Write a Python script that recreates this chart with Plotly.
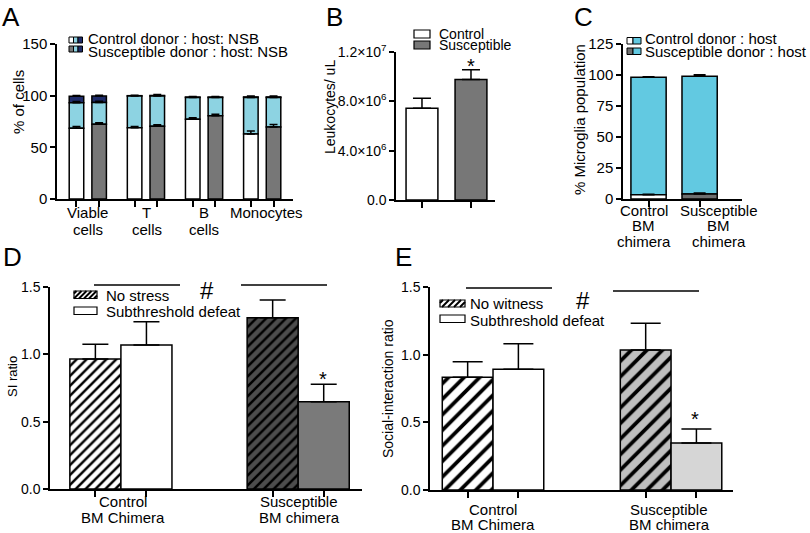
import plotly.graph_objects as go

W, H = 810, 533
FONT = "Liberation Sans, Arial, Helvetica, sans-serif"

# ---------------- data ----------------
# Panel A
a_categories = ["Viable<br>cells", "T<br>cells", "B<br>cells", "Monocytes"]
a_ctrl_donor = [68.4, 69.0, 77.1, 62.9]
a_ctrl_host = [24.8, 30.6, 21.2, 35.4]
a_ctrl_nsb = [6.3, 0.4, 0.4, 0.5]
a_susc_donor = [72.3, 70.3, 80.6, 69.7]
a_susc_host = [21.0, 29.3, 17.6, 28.5]
a_susc_nsb = [6.3, 0.6, 0.5, 0.6]
a_ctrl_donor_err = [1.8, 1.2, 1.6, 2.8]
a_ctrl_host_err = [1.2, 0.0, 0.0, 0.0]
a_ctrl_nsb_err = [0.6, 0.5, 0.6, 0.8]
a_susc_donor_err = [1.4, 1.6, 1.4, 2.4]
a_susc_host_err = [1.2, 0.0, 0.0, 0.0]
a_susc_nsb_err = [0.7, 0.9, 0.6, 0.8]
a_yticks = [0, 50, 100, 150]

# Panel B
b_groups = ["Control", "Susceptible"]
b_values = [7.43e6, 9.78e6]
b_err = [0.81e6, 0.78e6]
b_yticks = [0, 4e6, 8e6, 1.2e7]
b_yticklabels = ["0.0", "4.0×10<sup>6</sup>", "8.0×10<sup>6</sup>", "1.2×10<sup>7</sup>"]

# Panel C
c_categories = ["Control<br>BM<br>chimera", "Susceptible<br>BM<br>chimera"]
c_donor = [3.5, 4.0]
c_host = [94.6, 94.9]
c_donor_err = [0.4, 0.8]
c_host_err = [0.4, 1.3]
c_yticks = [0, 25, 50, 75, 100, 125]

# Panel D
d_groups = ["Control<br>BM Chimera", "Susceptible<br>BM chimera"]
d_nostress = [0.965, 1.272]
d_nostress_err = [0.109, 0.131]
d_defeat = [1.069, 0.648]
d_defeat_err = [0.173, 0.129]

# Panel E
e_groups = ["Control<br>BM Chimera", "Susceptible<br>BM chimera"]
e_nowitness = [0.833, 1.035]
e_nowitness_err = [0.115, 0.197]
e_defeat = [0.892, 0.347]
e_defeat_err = [0.189, 0.104]

ratio_ticks = [0, 0.5, 1.0, 1.5]
ratio_ticklabels = ["0.0", "0.5", "1.0", "1.5"]

# ---------------- helpers ----------------
def px(x):
    return x / W

def py(y):
    return 1 - y / H

def bar(x, y, xa, ya, color, offset, width, base=None, err=None, errw=4, pattern=None):
    t = dict(
        x=x, y=y, xaxis=xa, yaxis=ya, offset=offset, width=width,
        marker=dict(color=color, line=dict(color="black", width=1.5)),
        showlegend=False, hoverinfo="skip",
    )
    if base is not None:
        t["base"] = base
    if pattern is not None:
        t["marker"]["pattern"] = pattern
    if err is not None:
        t["error_y"] = dict(type="data", symmetric=False, array=err,
                            arrayminus=[0] * len(err), color="black",
                            thickness=1.5, width=errw)
    return go.Bar(**t)

fig = go.Figure()

# ---------------- Panel A ----------------
ax = list(range(len(a_categories)))
CYAN_A = "#8dd3e2"
NAVY = "#1f2c6a"
GRAY = "#777777"
ctrl_base2 = [d + h for d, h in zip(a_ctrl_donor, a_ctrl_host)]
susc_base2 = [d + h for d, h in zip(a_susc_donor, a_susc_host)]
for off, donor, host, nsb, base2, dcol, errs in [
    (-0.32, a_ctrl_donor, a_ctrl_host, a_ctrl_nsb, ctrl_base2, "white",
     (a_ctrl_donor_err, a_ctrl_host_err, a_ctrl_nsb_err)),
    (0.07, a_susc_donor, a_susc_host, a_susc_nsb, susc_base2, GRAY,
     (a_susc_donor_err, a_susc_host_err, a_susc_nsb_err)),
]:
    fig.add_trace(bar(ax, nsb, "x", "y", NAVY, off, 0.25, base=base2, err=errs[2], errw=4))
    fig.add_trace(bar(ax, host, "x", "y", CYAN_A, off, 0.25, base=donor, err=errs[1], errw=4))
    fig.add_trace(bar(ax, donor, "x", "y", dcol, off, 0.25, base=[0] * len(ax), err=errs[0], errw=4))

# ---------------- Panel B ----------------
bx = list(range(len(b_groups)))
fig.add_trace(go.Bar(
    x=bx, y=b_values, xaxis="x2", yaxis="y2", width=0.65,
    marker=dict(color=["white", GRAY], line=dict(color="black", width=1.5)),
    error_y=dict(type="data", symmetric=False, array=b_err, arrayminus=[0, 0],
                 color="black", thickness=1.5, width=9),
    showlegend=False, hoverinfo="skip"))

# ---------------- Panel C ----------------
cx = list(range(len(c_categories)))
CYAN_C = "#62c9e1"
fig.add_trace(bar(cx, c_host, "x3", "y3", CYAN_C, -0.345, 0.69, base=c_donor, err=c_host_err, errw=6))
fig.add_trace(go.Bar(
    x=cx, y=c_donor, xaxis="x3", yaxis="y3", width=0.69, offset=-0.345,
    marker=dict(color=["white", "#6e6e6e"], line=dict(color="black", width=1.5)),
    error_y=dict(type="data", symmetric=False, array=c_donor_err, arrayminus=[0, 0],
                 color="black", thickness=1.5, width=6),
    showlegend=False, hoverinfo="skip"))

# ---------------- Panel D ----------------
dx = list(range(len(d_groups)))
BW_D = 0.288
for i, bg in enumerate(["white", "#4d4d4d"]):
    fig.add_trace(bar([dx[i]], [d_nostress[i]], "x4", "y4", bg, -BW_D, BW_D,
                      err=[d_nostress_err[i]], errw=13,
                      pattern=dict(shape="/", fgcolor="#000000", bgcolor=bg, fgopacity=1,
                                   size=7, solidity=0.36, fillmode="replace")))
fig.add_trace(bar(dx, d_defeat, "x4", "y4", ["white", "#7a7a7a"], 0, BW_D,
                  err=d_defeat_err, errw=13))

# ---------------- Panel E ----------------
ex = list(range(len(e_groups)))
BW_E = 0.285
for i, bg in enumerate(["white", "#bfbfbf"]):
    fig.add_trace(bar([ex[i]], [e_nowitness[i]], "x5", "y5", bg, -BW_E, BW_E,
                      err=[e_nowitness_err[i]], errw=15,
                      pattern=dict(shape="/", fgcolor="#000000", bgcolor=bg, fgopacity=1,
                                   size=11, solidity=0.34, fillmode="replace")))
fig.add_trace(bar(ex, e_defeat, "x5", "y5", ["white", "#d6d6d6"], 0, BW_E,
                  err=e_defeat_err, errw=15))

# ---------------- axes ----------------
def xaxis(domain, rng, yref, tickvals):
    return dict(domain=domain, range=rng, anchor=yref, showline=True, linecolor="black",
                linewidth=1.5, showgrid=False, zeroline=False, ticks="outside",
                tickcolor="black", ticklen=6, tickwidth=1.5, tickmode="array",
                tickvals=tickvals, showticklabels=False, fixedrange=True,
                automargin=False)

def yaxis(domain, rng, xref, tickvals, ticktext=None, fs=15):
    d = dict(domain=domain, range=rng, anchor=xref, showline=True, linecolor="black",
             linewidth=1.5, showgrid=False, zeroline=False, ticks="outside",
             tickcolor="black", ticklen=5, tickwidth=1.5, tickmode="array",
             tickvals=tickvals, fixedrange=True, automargin=False,
             tickfont=dict(family=FONT, size=fs, color="black"))
    if ticktext is not None:
        d["ticktext"] = ticktext
    return d

a_ticks = [i + o for i in ax for o in (-0.195, 0.195)]
d_ticks = [i + o for i in dx for o in (-BW_D / 2, BW_D / 2)]
e_ticks = [i + o for i in ex for o in (-BW_E / 2, BW_E / 2)]

fig.update_layout(
    xaxis=xaxis([px(57), px(293)], [-0.53, 3.53], "y", a_ticks),
    yaxis=yaxis([py(199), py(44)], [0, 150], "x", a_yticks),
    xaxis2=xaxis([px(396), px(495)], [-0.53, 1.49], "y2", bx),
    yaxis2=yaxis([py(200), py(52)], [0, 1.2e7], "x2", b_yticks, b_yticklabels, fs=14),
    xaxis3=xaxis([px(623), px(742)], [-0.5, 1.83], "y3", cx),
    yaxis3=yaxis([py(199), py(44)], [0, 125], "x3", c_yticks),
    xaxis4=xaxis([px(50), px(362)], [-0.40, 1.36], "y4", d_ticks),
    yaxis4=yaxis([py(489), py(287)], [0, 1.5], "x4", ratio_ticks, ratio_ticklabels, fs=14),
    xaxis5=xaxis([px(430), px(733)], [-0.354, 1.348], "y5", e_ticks),
    yaxis5=yaxis([py(490), py(287)], [0, 1.5], "x5", ratio_ticks, ratio_ticklabels, fs=14),
)

# ---------------- annotations / shapes ----------------
ann = []
shapes = []

def text(x, y, s, size=15, angle=0, xanchor="center", yanchor="middle"):
    ann.append(dict(x=px(x), y=py(y), xref="paper", yref="paper", text=s,
                    showarrow=False, textangle=angle, xanchor=xanchor, yanchor=yanchor,
                    font=dict(family=FONT, size=size, color="black")))

def cat_labels(xref, xs, labels, y_first, spacing, shifts, size=15):
    # category labels, one annotation per text line, anchored on the axis' data x
    for xv, lab, sh in zip(xs, labels, shifts):
        for k, ln in enumerate(lab.split("<br>")):
            ann.append(dict(x=xv, xref=xref, y=py(y_first + k * spacing), yref="paper",
                            text=ln, showarrow=False, xanchor="center", yanchor="middle",
                            xshift=sh, font=dict(family=FONT, size=size, color="black")))

def rect(x0, y0, x1, y1, color, lw=1.2):
    shapes.append(dict(type="rect", xref="paper", yref="paper",
                       x0=px(x0), x1=px(x1), y0=py(y1), y1=py(y0),
                       fillcolor=color, line=dict(color="black", width=lw)))

def line(x0, y0, x1, y1, lw=1.5):
    shapes.append(dict(type="line", xref="paper", yref="paper",
                       x0=px(x0), x1=px(x1), y0=py(y0), y1=py(y1),
                       line=dict(color="black", width=lw)))

def hatch_swatch(x0, y0, x1, y1, bg, step):
    rect(x0, y0, x1, y1, bg)
    h = y1 - y0
    s = x0 - h + step / 2
    while s < x1:
        a0, b0 = s, y1
        a1, b1 = s + h, y0
        if a0 < x0:
            b0 = y1 - (x0 - a0)
            a0 = x0
        if a1 > x1:
            b1 = y0 + (a1 - x1)
            a1 = x1
        if a1 > a0:
            line(a0, b0, a1, b1, lw=2)
        s += step

# category labels
cat_labels("x", ax, a_categories, 212, 18, [0, 1, 0, 4])
cat_labels("x3", cx, c_categories, 210, 16, [-5, 19])
cat_labels("x4", dx, d_groups, 501, 16, [2, 1])
cat_labels("x5", ex, e_groups, 509, 15, [0, -2])

# panel letters
for lx, ly, L in [(11, 17, "A"), (334, 17, "B"), (583, 17, "C"), (12, 257, "D"), (403, 257, "E")]:
    text(lx, ly, L, size=26)

# y titles
text(18, 102, "% of cells", size=15, angle=-90)
text(330, 107, "Leukocytes/ uL", size=14, angle=-90)
text(579, 120, "% Microglia population", size=15, angle=-90)
text(12, 377, "SI ratio", size=13, angle=-90)
text(388, 389, "Social-interaction ratio", size=14, angle=-90)

# legend A
for yy, first in [(37, "white"), (46, GRAY)]:
    rect(69, yy, 73.5, yy + 6, first, lw=1)
    rect(73.5, yy, 78, yy + 6, CYAN_A, lw=1)
    rect(78, yy, 82.5, yy + 6, NAVY, lw=1)
text(86, 39, "Control donor : host: NSB", size=15, xanchor="left")
text(86, 51, "Susceptible donor : host: NSB", size=15, xanchor="left")

# legend B
rect(414, 30, 430, 38, "white")
rect(414, 41, 430, 49, GRAY)
text(437, 34, "Control", size=14, xanchor="left")
text(437, 45, "Susceptible", size=14, xanchor="left")
text(471, 66, "*", size=20)

# legend C
rect(627, 37.5, 633, 44, "white", lw=1)
rect(633, 37.5, 641, 44, CYAN_C, lw=1)
rect(627, 48, 633, 54.5, "#6e6e6e", lw=1)
rect(633, 48, 641, 54.5, CYAN_C, lw=1)
text(643, 39, "Control donor : host", size=15, xanchor="left")
text(643, 51, "Susceptible donor : host", size=15, xanchor="left")

# legend D + annotations
hatch_swatch(74, 291, 97, 298.5, "white", 5)
rect(74, 307, 97, 314.5, "white")
text(104, 295, "No stress", size=15, xanchor="left")
text(104, 311, "Subthreshold defeat", size=15, xanchor="left")
line(94, 285, 180, 285)
line(241, 285, 327, 285)
text(207, 290, "#", size=24)
text(323, 379, "*", size=20)

# legend E + annotations
hatch_swatch(440, 300, 465, 307, "white", 6)
rect(440, 315, 465, 322.5, "white")
text(468, 303, "No witness", size=15, xanchor="left")
text(468, 320, "Subthreshold defeat", size=15, xanchor="left")
line(466, 288, 552, 288)
line(613, 291, 699, 291)
text(583, 300, "#", size=24)
text(695, 419, "*", size=20)

fig.update_layout(
    annotations=ann, shapes=shapes,
    barmode="overlay",
    width=W, height=H, autosize=False,
    margin=dict(l=0, r=0, t=0, b=0),
    paper_bgcolor="white", plot_bgcolor="white",
    showlegend=False,
    font=dict(family=FONT, color="black"),
)

fig.write_html("out.html", config={"displayModeBar": False},
               post_script="document.body.style.margin='0px';document.body.style.overflow='hidden';")
